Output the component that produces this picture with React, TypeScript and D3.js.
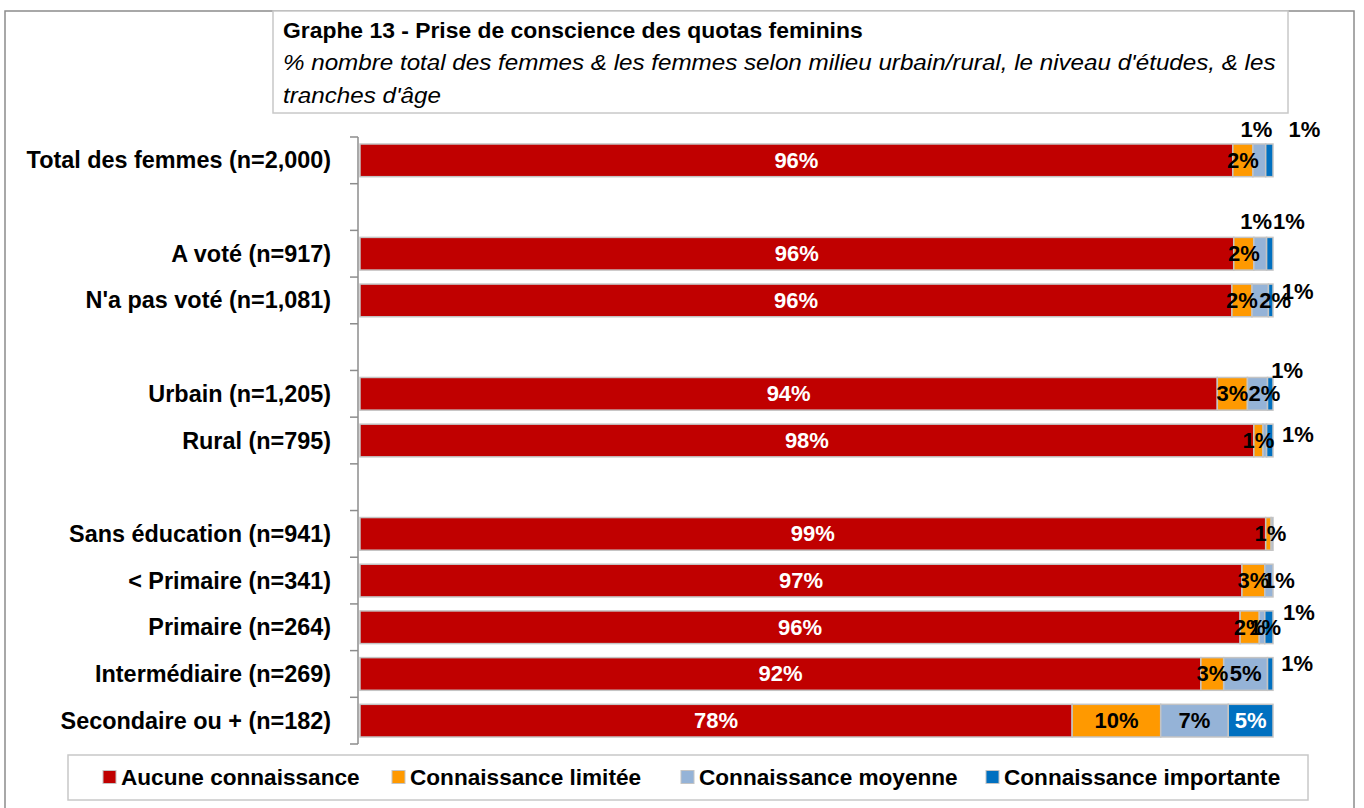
import React from "react";
import * as d3 from "d3";

const CATEGORIES = [
  "Total des femmes (n=2,000)",
  "",
  "A voté (n=917)",
  "N'a pas voté (n=1,081)",
  "",
  "Urbain (n=1,205)",
  "Rural (n=795)",
  "",
  "Sans éducation (n=941)",
  "< Primaire (n=341)",
  "Primaire (n=264)",
  "Intermédiaire (n=269)",
  "Secondaire ou + (n=182)",
];

const SERIES_NAMES = [
  "Aucune connaissance",
  "Connaissance limitée",
  "Connaissance moyenne",
  "Connaissance importante",
];

const AUCUNE = [95.6, null, 95.7, 95.5, null, 93.9, 97.9, null, 99.2, 96.6, 96.4, 92.1, 78.0];
const LIMITEE = [2.2, null, 2.2, 2.2, null, 3.3, 1.0, null, 0.6, 2.5, 2.1, 2.5, 9.7];
const MOYENNE = [1.4, null, 1.4, 1.8, null, 2.2, 0.4, null, 0.2, 0.9, 0.6, 4.8, 7.4];
const IMPORTANTE = [0.8, null, 0.7, 0.5, null, 0.6, 0.7, null, 0, 0, 0.9, 0.6, 4.9];

const COLORS = ["#C00000", "#FF9900", "#95B3D7", "#0070C0"];

const TITLE = "Graphe 13 - Prise de conscience des quotas feminins";
const SUBTITLE_LINES = [
  "% nombre total des femmes & les femmes selon milieu urbain/rural, le niveau d'études, & les",
  "tranches d'âge",
];

// manual label displacements (row-series -> [dx, dy])
const LABEL_SHIFT: Record<string, [number, number]> = {
  "0-2": [-3, -31],
  "0-3": [35, -31],
  "2-2": [-4, -32],
  "2-3": [19, -32],
  "3-2": [15, 0],
  "3-3": [27, -9],
  "5-2": [7, 0],
  "5-3": [17, -23],
  "6-3": [28, -6],
  "8-1": [2, 0],
  "9-2": [10, 0],
  "10-2": [3, 0],
  "10-3": [30, -15],
  "11-3": [27, -10],
};

const LEGEND_X = [103, 392, 681, 986];

const FONT = "'Liberation Sans', Arial, sans-serif";

export default function App() {
  const W = 1364;
  const H = 808;
  const series = [AUCUNE, LIMITEE, MOYENNE, IMPORTANTE];

  const x = d3.scaleLinear().domain([0, 100]).range([360, 1273]);
  const y = d3
    .scaleBand<number>()
    .domain(CATEGORIES.map((_, i) => i))
    .range([137, 744])
    .paddingInner(0.3)
    .paddingOuter(0.15);

  const rows = CATEGORIES.map((_, i) => {
    const vals = series.map((s) => s[i]);
    if (vals[0] == null) return null;
    const total = d3.sum(vals as number[]);
    let acc = 0;
    return vals.map((v, k) => {
      const x0 = (acc / total) * 100;
      acc += v as number;
      const x1 = (acc / total) * 100;
      return { k, v: v as number, x0, x1 };
    });
  });

  const step = y.step();
  const axisX = 358;
  const y0 = 137;
  const tickYs = d3.range(CATEGORIES.length + 1).map((i) => y0 + i * step);

  return (
    <svg
      width={W}
      height={H}
      style={{ position: "absolute", left: 0, top: 0, background: "#fff" }}
      fontFamily={FONT}
    >
      <rect x={0} y={0} width={W} height={H} fill="#fff" />
      {/* outer frame */}
      <rect x={5} y={11} width={1349} height={820} fill="none" stroke="#8c8c8c" strokeWidth={1.5} />

      {/* title box */}
      <rect x={273} y={11} width={1015} height={102} fill="#fff" stroke="#c8c8c8" strokeWidth={1.5} />
      <text transform="translate(283,38) scale(1.04,1)" fontSize={22} fontWeight="bold" fill="#000">
        {TITLE}
      </text>
      {SUBTITLE_LINES.map((l, i) => (
        <text
          key={i}
          transform={`translate(283,${70 + i * 33}) scale(1.1,1)`}
          fontSize={22}
          fontStyle="italic"
          fill="#000"
        >
          {l}
        </text>
      ))}

      {/* bars */}
      {rows.map((r, i) =>
        r
          ? r.map((s) =>
              s.v > 0 ? (
                <rect
                  key={`${i}-${s.k}`}
                  x={x(s.x0)}
                  y={y(i)}
                  width={x(s.x1) - x(s.x0)}
                  height={y.bandwidth()}
                  fill={COLORS[s.k]}
                  stroke="#c4c4c4"
                  strokeWidth={1.5}
                />
              ) : null
            )
          : null
      )}

      {/* axis */}
      <line x1={axisX} x2={axisX} y1={y0} y2={y0 + CATEGORIES.length * step} stroke="#8c8c8c" strokeWidth={1.5} />
      {tickYs.map((ty, i) => (
        <line key={i} x1={350} x2={axisX} y1={ty} y2={ty} stroke="#8c8c8c" strokeWidth={1.5} />
      ))}

      {/* category labels */}
      {CATEGORIES.map((c, i) =>
        c ? (
          <text
            key={i}
            x={331}
            y={(y(i) as number) + y.bandwidth() / 2}
            textAnchor="end"
            dominantBaseline="central"
            fontSize={23.4}
            fontWeight="bold"
            fill="#000"
          >
            {c}
          </text>
        ) : null
      )}

      {/* data labels */}
      {rows.map((r, i) =>
        r
          ? r.map((s) => {
              const lab = Math.round(s.v);
              if (lab <= 0) return null;
              const key = `${i}-${s.k}`;
              const shift = LABEL_SHIFT[key];
              const cx = (x(s.x0) + x(s.x1)) / 2 + (shift ? shift[0] : 0);
              const cy = (y(i) as number) + y.bandwidth() / 2 + (shift ? shift[1] : 0);
              let color = s.k === 1 || s.k === 2 ? "#000" : "#fff";
              if (s.k === 3 && shift) color = "#000";
              return (
                <text
                  key={key}
                  x={cx}
                  y={cy}
                  textAnchor="middle"
                  dominantBaseline="central"
                  fontSize={22}
                  fontWeight="bold"
                  fill={color}
                >
                  {lab}%
                </text>
              );
            })
          : null
      )}

      {/* legend */}
      <rect x={68} y={755} width={1240} height={45} fill="#fff" stroke="#c8c8c8" strokeWidth={1.5} />
      {SERIES_NAMES.map((n, k) => (
        <g key={k} transform={`translate(${LEGEND_X[k]},777)`}>
          <rect x={0} y={-6.5} width={13} height={13} fill={COLORS[k]} stroke="#c4c4c4" strokeWidth={1} />
          <text x={18} y={0} dominantBaseline="central" fontSize={22.6} fontWeight="bold" fill="#000">
            {n}
          </text>
        </g>
      ))}
    </svg>
  );
}
